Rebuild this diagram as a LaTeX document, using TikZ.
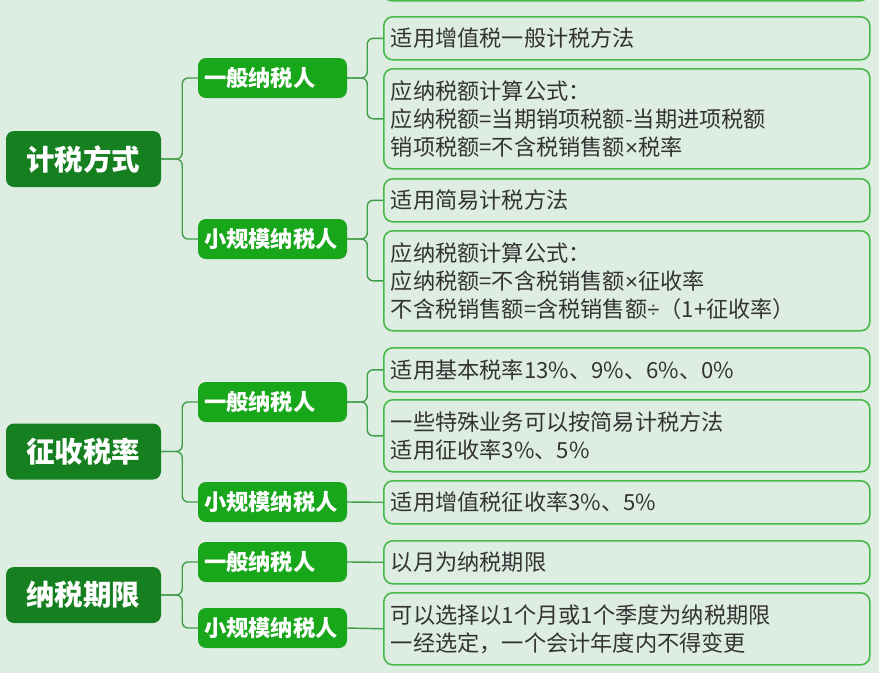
\documentclass[tikz,border=0pt]{standalone}
\usepackage{fontspec}
\setmainfont{Noto Sans CJK SC}
\newfontfamily\latinf{Liberation Sans}
\newcommand\mytimes{{\latinf ×}}
\newcommand\mydiv{{\latinf ÷}}
\definecolor{bgc}{HTML}{DEEDE2}
\definecolor{rootc}{HTML}{168020}
\definecolor{midc}{HTML}{18A71B}
\definecolor{leafc}{HTML}{48B948}
\definecolor{connc}{HTML}{3F9E47}
\definecolor{txtc}{HTML}{333333}
\tikzset{
  rootbox/.style={fill=rootc, draw=none, rounded corners=8pt, minimum width=155pt, minimum height=56pt,
    inner sep=0pt, text=white, font=\fontsize{28.5}{32}\selectfont\bfseries},
  midbox/.style={fill=midc, draw=none, rounded corners=8pt, minimum width=149pt, minimum height=40pt,
    inner xsep=6pt, inner ysep=0pt, text width=137pt, align=left, text=white,
    font=\fontsize{22.3}{26}\selectfont\bfseries},
  leafbox/.style={draw=leafc, line width=1.6pt, rounded corners=9pt, anchor=north west,
    minimum width=486pt, inner xsep=7pt, inner ysep=0pt, text width=472pt, align=left,
    text=txtc, font=\fontsize{22.2}{28}\selectfont},
  conn/.style={draw=connc, line width=1.4pt, rounded corners=6pt},
}
\begin{document}
\begin{tikzpicture}[x=1pt,y=-1pt]
\useasboundingbox (0,0) rectangle (879,673);
\clip (0,0) rectangle (879,673);
\fill[bgc] (0,0) rectangle (879,673);
% partially visible box at the top
\draw[draw=leafc, line width=1.6pt, rounded corners=9pt] (383,-40) rectangle (869,0.8);

% ---------- section 1 ----------
\node[rootbox] (r1) at (83.5,159) {计税方式};
\node[midbox] (m11) at (272.5,78) {一般纳税人};
\node[midbox] (m12) at (272.5,239) {小规模纳税人};
\node[leafbox, minimum height=43pt] (l111) at (383,16) {适用增值税一般计税方法};
\node[leafbox, minimum height=100pt] (l112) at (383,68) {应纳税额计算公式：\\应纳税额=当期销项税额-当期进项税额\\销项税额=不含税销售额\mytimes 税率};
\node[leafbox, minimum height=43pt] (l121) at (383,178) {适用简易计税方法};
\node[leafbox, minimum height=100pt] (l122) at (383,230) {应纳税额计算公式：\\应纳税额=不含税销售额\mytimes 征收率\\不含税销售额=含税销售额\mydiv（1+征收率）};

% ---------- section 2 ----------
\node[rootbox] (r2) at (83.5,451.5) {征收税率};
\node[midbox] (m21) at (272.5,402) {一般纳税人};
\node[midbox] (m22) at (272.5,502) {小规模纳税人};
\node[leafbox, minimum height=44pt] (l211) at (383,347) {适用基本税率13\%、9\%、6\%、0\%};
\node[leafbox, minimum height=72pt] (l212) at (383,399) {一些特殊业务可以按简易计税方法\\适用征收率3\%、5\%};
\node[leafbox, minimum height=43pt] (l221) at (383,480) {适用增值税征收率3\%、5\%};

% ---------- section 3 ----------
\node[rootbox] (r3) at (83.5,595) {纳税期限};
\node[midbox] (m31) at (272.5,562) {一般纳税人};
\node[midbox] (m32) at (272.5,628) {小规模纳税人};
\node[leafbox, minimum height=43pt] (l311) at (383,540) {以月为纳税期限};
\node[leafbox, minimum height=72pt] (l321) at (383,592) {可以选择以1个月或1个季度为纳税期限\\一经选定，一个会计年度内不得变更};

% ---------- connectors ----------
\foreach \p/\c in {r1/m11, r1/m12, r2/m21, r2/m22, r3/m31, r3/m32}
  \draw[conn] (\p.east) -- ++(21,0) |- (\c.west);
\foreach \p/\c in {m11/l111, m11/l112, m12/l121, m12/l122, m21/l211, m21/l212}
  \draw[conn] (\p.east) -- ++(20,0) |- (\c.west);
\draw[conn] (m22.east) -- (l221.west);
\draw[conn] (m31.east) -- (l311.west);
\draw[conn] (m32.east) -- (l321.west);
\end{tikzpicture}
\end{document}
